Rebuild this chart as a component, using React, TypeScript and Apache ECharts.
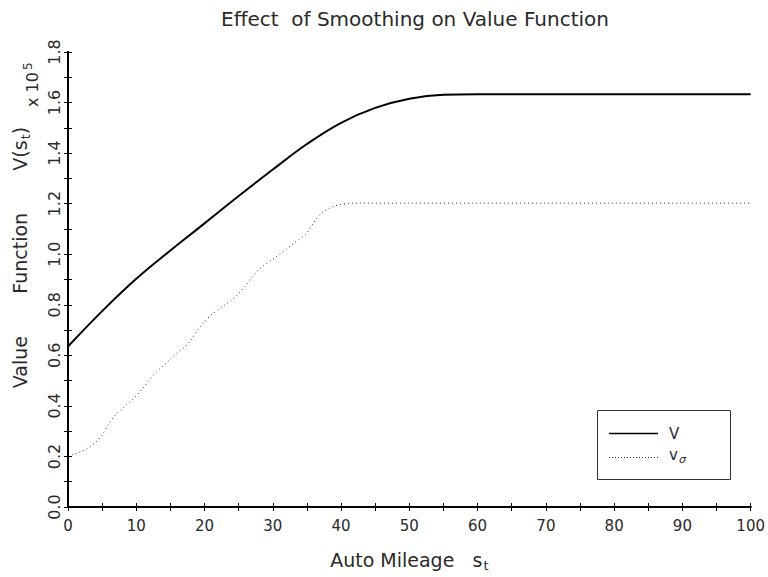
import React, { useEffect, useRef } from "react";
import * as echarts from "echarts";

const mileage = [0, 5, 10, 15, 20, 25, 30, 35, 40, 45, 50, 55, 60, 70, 80, 90, 100];
const valueV = [0.635, 0.775, 0.903, 1.015, 1.122, 1.23, 1.335, 1.436, 1.52, 1.579, 1.615, 1.631, 1.633, 1.633, 1.633, 1.633, 1.633];

const mileageSigma = [0, 1, 2, 3, 4, 5, 6, 7, 8, 9, 10, 11, 12, 13, 14, 15, 16, 17, 18, 19, 20, 21, 22, 23, 24, 25, 26, 27, 28, 29, 30, 31, 32, 33, 34, 35, 36, 37, 38, 39, 40, 41, 42, 50, 60, 70, 80, 90, 100];
const valueSigma = [0.2, 0.21, 0.22, 0.235, 0.255, 0.285, 0.33, 0.365, 0.39, 0.415, 0.44, 0.47, 0.505, 0.535, 0.56, 0.585, 0.61, 0.63, 0.66, 0.7, 0.735, 0.76, 0.78, 0.8, 0.82, 0.845, 0.875, 0.91, 0.94, 0.962, 0.98, 1.0, 1.02, 1.042, 1.062, 1.085, 1.125, 1.16, 1.178, 1.19, 1.197, 1.2, 1.202, 1.202, 1.202, 1.202, 1.202, 1.202, 1.202];

const FONT = "DejaVu Sans";
const TEXT = "#2a2a2a";

export default function App() {
  const ref = useRef<HTMLDivElement>(null);
  useEffect(() => {
    if (!ref.current) return;
    const chart = echarts.init(ref.current, null, { renderer: "svg" });
    const pairs = (xs: number[], ys: number[]) => xs.map((x, i) => [x, ys[i]]);
    const axisCommon = {
      type: "value" as const,
      axisLine: { show: true, lineStyle: { color: "#000", width: 2 } },
      axisTick: { show: true, inside: true, length: 4, lineStyle: { color: "#000", width: 1 } },
      minorTick: { show: true, splitNumber: 2, length: 4, lineStyle: { color: "#000", width: 1 } },
      splitLine: { show: false },
      minorSplitLine: { show: false },
    };
    chart.setOption({
      animation: false,
      backgroundColor: "#fff",
      title: {
        text: "Effect  of Smoothing on Value Function",
        left: 410,
        textAlign: "center",
        top: 4,
        textStyle: { fontFamily: FONT, fontSize: 20, fontWeight: "normal", color: TEXT },
      },
      grid: { left: 68, right: 16, top: 52, bottom: 64 },
      xAxis: [
        {
          ...axisCommon,
          min: 0,
          max: 100,
          interval: 10,
          position: "bottom",
          axisLabel: { margin: 11, fontFamily: FONT, fontSize: 15, color: TEXT },
          name: "{a|Auto Mileage   s}{s|t}",
          nameLocation: "middle",
          nameGap: 40,
          nameTextStyle: {
            rich: {
              a: { fontFamily: FONT, fontSize: 19, color: TEXT },
              s: { fontFamily: FONT, fontSize: 13, color: TEXT, verticalAlign: "bottom", padding: [12, 0, 0, 1] },
            },
          },
        },
        {
          ...axisCommon,
          min: 0,
          max: 100,
          interval: 10,
          position: "top",
          axisLabel: { show: false },
        },
      ],
      yAxis: [
        {
          ...axisCommon,
          min: 0,
          max: 1.8,
          interval: 0.2,
          position: "left",
          axisLabel: {
            rotate: 90,
            margin: 6,
            fontFamily: FONT,
            fontSize: 16,
            color: TEXT,
            formatter: (v: number) => v.toFixed(1),
          },
          name: "{a|Value       Function       V(s}{s|t}{a|)}",
          nameLocation: "middle",
          nameGap: 36,
          nameRotate: 90,
          nameTextStyle: {
            padding: [0, 0, 0, 44],
            rich: {
              a: { fontFamily: FONT, fontSize: 19, color: TEXT },
              s: { fontFamily: FONT, fontSize: 13, color: TEXT, verticalAlign: "bottom", padding: [12, 0, 0, 1] },
            },
          },
        },
        {
          ...axisCommon,
          min: 0,
          max: 1.8,
          interval: 0.2,
          position: "right",
          axisLabel: { show: false },
        },
      ],
      graphic: [
        {
          type: "rect",
          shape: { x: 597.5, y: 410.5, width: 133, height: 69 },
          style: { fill: "none", stroke: "#333", lineWidth: 1 },
          z: 10,
        },
        {
          type: "line",
          shape: { x1: 609, y1: 433.5, x2: 658, y2: 433.5 },
          style: { stroke: "#000", lineWidth: 1.5 },
          z: 10,
        },
        {
          type: "line",
          shape: { x1: 609, y1: 457.5, x2: 658, y2: 457.5 },
          style: { stroke: "#333", lineWidth: 1, lineDash: [1, 2] },
          z: 10,
        },
        {
          type: "text",
          x: 669,
          y: 434,
          style: { text: "V", font: `15px "${FONT}"`, fill: TEXT, verticalAlign: "middle" },
          z: 10,
        },
        {
          type: "text",
          x: 669,
          y: 455,
          style: {
            text: "{a|v}{s|σ}",
            verticalAlign: "middle",
            rich: {
              a: { fontFamily: FONT, fontSize: 15, fill: TEXT },
              s: { fontFamily: FONT, fontSize: 11, fill: TEXT, fontStyle: "italic", verticalAlign: "bottom", padding: [9, 0, 0, 1] },
            },
          } as any,
          z: 10,
        },
        {
          type: "text",
          x: 22,
          y: 107,
          rotation: Math.PI / 2,
          style: {
            text: "{a|x 10}{s|5}",
            rich: {
              a: { fontFamily: FONT, fontSize: 16, fill: TEXT },
              s: { fontFamily: FONT, fontSize: 12, fill: TEXT, verticalAlign: "top", padding: [0, 0, 8, 2] },
            },
          } as any,
        },
      ],
      series: [
        {
          name: "V",
          type: "line",
          data: pairs(mileage, valueV),
          smooth: 0.4,
          symbol: "none",
          showSymbol: false,
          lineStyle: { color: "#000", width: 2 },
          itemStyle: { color: "#000" },
        },
        {
          name: "vσ",
          type: "line",
          data: pairs(mileageSigma, valueSigma),
          smooth: 0.3,
          symbol: "none",
          showSymbol: false,
          lineStyle: { color: "#333", width: 1, type: [1, 3] },
          itemStyle: { color: "#333" },
        },
      ],
    });
    return () => chart.dispose();
  }, []);
  return <div ref={ref} style={{ width: 768, height: 577, position: "absolute", left: 0, top: 0 }} />;
}
